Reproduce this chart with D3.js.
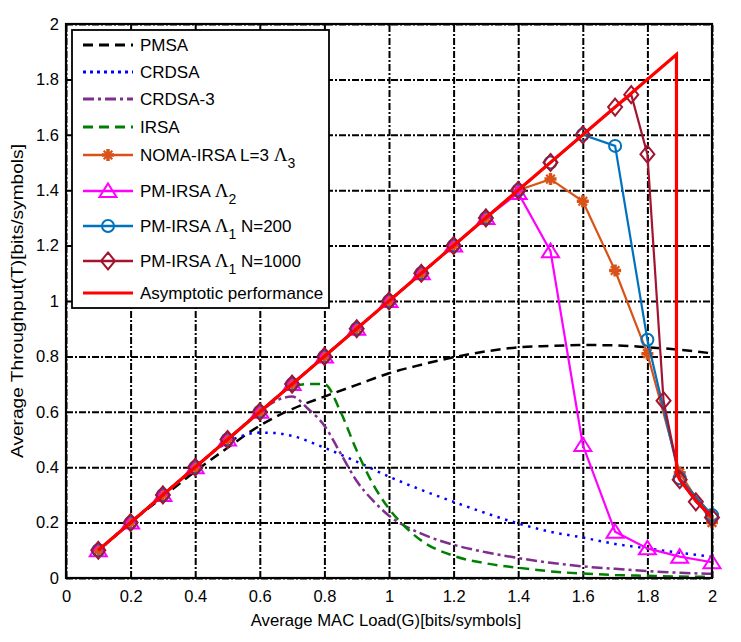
<!DOCTYPE html>
<html>
<head>
<meta charset="utf-8">
<script src="https://cdn.jsdelivr.net/npm/d3@7"></script>
<style>
  body { margin: 0; background: #fff; }
  svg { display: block; }
  text { font-family: "Liberation Sans", Arial, sans-serif; }
</style>
</head>
<body>
<svg id="chart" width="741" height="642"></svg>
<script>
// ---------------- data ----------------
const xTicks = [0, 0.2, 0.4, 0.6, 0.8, 1, 1.2, 1.4, 1.6, 1.8, 2];
const yTicks = [0, 0.2, 0.4, 0.6, 0.8, 1, 1.2, 1.4, 1.6, 1.8, 2];
const xTickLabels = ["0", "0.2", "0.4", "0.6", "0.8", "1", "1.2", "1.4", "1.6", "1.8", "2"];
const yTickLabels = ["0", "0.2", "0.4", "0.6", "0.8", "1", "1.2", "1.4", "1.6", "1.8", "2"];

const pmsaX = [0.1,0.2,0.3,0.4,0.5,0.6,0.7,0.8,0.9,1.0,1.1,1.2,1.3,1.4,1.5,1.6,1.7,1.8,1.9,2.0];
const pmsaY = [0.1,0.2,0.293,0.385,0.47,0.55,0.61,0.655,0.697,0.739,0.77,0.797,0.818,0.833,0.838,0.841,0.84,0.833,0.824,0.811];

const crdsaX = [0.1,0.2,0.3,0.4,0.45,0.5,0.55,0.6,0.65,0.7,0.8,0.9,1.0,1.1,1.2,1.3,1.4,1.5,1.6,1.7,1.8,1.9,2.0];
const crdsaY = [0.1,0.2,0.3,0.398,0.45,0.49,0.515,0.525,0.523,0.513,0.47,0.42,0.366,0.318,0.275,0.234,0.197,0.167,0.146,0.123,0.107,0.091,0.077];

const crdsa3X = [0.1,0.2,0.3,0.4,0.5,0.6,0.65,0.7,0.75,0.8,0.85,0.9,0.95,1.0,1.1,1.2,1.3,1.4,1.5,1.6,1.7,1.8,1.9,2.0];
const crdsa3Y = [0.1,0.2,0.3,0.4,0.5,0.6,0.64,0.655,0.61,0.55,0.45,0.35,0.28,0.225,0.16,0.12,0.093,0.072,0.055,0.042,0.033,0.025,0.019,0.015];

const irsaX = [0.1,0.2,0.3,0.4,0.5,0.6,0.7,0.75,0.8,0.85,0.9,0.95,1.0,1.05,1.1,1.2,1.3,1.4,1.5,1.6,1.7,1.8,1.9,2.0];
const irsaY = [0.1,0.2,0.3,0.4,0.5,0.6,0.69,0.70,0.70,0.60,0.46,0.34,0.25,0.185,0.135,0.08,0.053,0.037,0.024,0.016,0.011,0.008,0.005,0.004];

const nomaX = [0.1,0.2,0.3,0.4,0.5,0.6,0.7,0.8,0.9,1.0,1.1,1.2,1.3,1.4,1.5,1.6,1.7,1.8,1.9,2.0];
const nomaY = [0.1,0.2,0.3,0.4,0.5,0.6,0.7,0.8,0.9,1.0,1.1,1.2,1.3,1.4,1.44,1.36,1.11,0.81,0.38,0.2];

const pm2X = [0.1,0.2,0.3,0.4,0.5,0.6,0.7,0.8,0.9,1.0,1.1,1.2,1.3,1.4,1.5,1.6,1.7,1.8,1.9,2.0];
const pm2Y = [0.1,0.2,0.3,0.4,0.5,0.6,0.7,0.8,0.9,1.0,1.1,1.2,1.3,1.39,1.18,0.48,0.167,0.107,0.077,0.057];

const n200X = [0.1,0.2,0.3,0.4,0.5,0.6,0.7,0.8,0.9,1.0,1.1,1.2,1.3,1.4,1.5,1.6,1.7,1.8,1.9,2.0];
const n200Y = [0.1,0.2,0.3,0.4,0.5,0.6,0.7,0.8,0.9,1.0,1.1,1.2,1.3,1.4,1.5,1.6,1.56,0.86,0.36,0.227];

const n1000X = [0.1,0.2,0.3,0.4,0.5,0.6,0.7,0.8,0.9,1.0,1.1,1.2,1.3,1.4,1.5,1.6,1.7,1.75,1.8,1.85,1.9,1.95,2.0];
const n1000Y = [0.1,0.2,0.3,0.4,0.5,0.6,0.7,0.8,0.9,1.0,1.1,1.2,1.3,1.4,1.5,1.6,1.7,1.745,1.53,0.64,0.355,0.275,0.218];

const asymX = [0.1, 1.89, 1.89, 1.9, 1.95, 2.0];
const asymY = [0.1, 1.89, 0.38, 0.355, 0.28, 0.22];

// ---------------- layout ----------------
const svg = d3.select("#chart");
const L = 66, R = 712, T = 24, B = 578;
const x = d3.scaleLinear().domain([0, 2]).range([L, R]);
const y = d3.scaleLinear().domain([0, 2]).range([B, T]);

// grid + tick labels
const gx = svg.append("g").attr("transform", `translate(0,${B})`)
  .call(d3.axisBottom(x).tickValues(xTicks).tickFormat((d, i) => xTickLabels[i])
        .tickSize(-(B - T)).tickPadding(12));
const gy = svg.append("g").attr("transform", `translate(${L},0)`)
  .call(d3.axisLeft(y).tickValues(yTicks).tickFormat((d, i) => yTickLabels[i])
        .tickSize(-(R - L)).tickPadding(7));
[gx, gy].forEach(g => {
  g.select(".domain").remove();
  g.selectAll(".tick line").attr("stroke", "#000").attr("stroke-width", 2)
    .attr("stroke-dasharray", "7,2,2,2");
  g.selectAll(".tick text").attr("fill", "#000").style("font-size", "16.5px")
    .style("font-family", "'Liberation Sans', Arial, sans-serif");
});

function series(xs, ys) { return xs.map((v, i) => [v, ys[i]]); }
const smooth = d3.line().x(d => x(d[0])).y(d => y(d[1])).curve(d3.curveMonotoneX);
const straight = d3.line().x(d => x(d[0])).y(d => y(d[1]));

const plot = svg.append("g");
plot.append("path").attr("d", smooth(series(pmsaX, pmsaY))).attr("fill", "none")
  .attr("stroke", "#000").attr("stroke-width", 2.5).attr("stroke-dasharray", "10,6");
plot.append("path").attr("d", smooth(series(crdsaX, crdsaY))).attr("fill", "none")
  .attr("stroke", "#0000FF").attr("stroke-width", 2.5).attr("stroke-dasharray", "2.5,5.5");
plot.append("path").attr("d", smooth(series(crdsa3X, crdsa3Y))).attr("fill", "none")
  .attr("stroke", "#7E2F8E").attr("stroke-width", 2.5).attr("stroke-dasharray", "11,4,3,4");
plot.append("path").attr("d", smooth(series(irsaX, irsaY))).attr("fill", "none")
  .attr("stroke", "#008000").attr("stroke-width", 2.5).attr("stroke-dasharray", "10,6");

// marker shapes
const markers = {
  star: g => {
    g.append("path").attr("d", "M-6,0L6,0M0,-6L0,6").attr("stroke-width", 3.5);
    g.append("path").attr("d", "M-4.3,-4.3L4.3,4.3M-4.3,4.3L4.3,-4.3").attr("stroke-width", 2.2);
  },
  tri: g => g.append("path").attr("d", "M0,-7.5L8.5,6L-8.5,6Z").attr("stroke-width", 2),
  circ: g => g.append("circle").attr("r", 6).attr("stroke-width", 2),
  diam: g => g.append("path").attr("d", "M0,-8.5L7,0L0,8.5L-7,0Z").attr("stroke-width", 2)
};

const markerSeries = [
  { xs: nomaX, ys: nomaY, color: "#D95319", m: "star" },
  { xs: pm2X, ys: pm2Y, color: "#FF00FF", m: "tri" },
  { xs: n200X, ys: n200Y, color: "#0072BD", m: "circ" },
  { xs: n1000X, ys: n1000Y, color: "#A2142F", m: "diam" }
];
markerSeries.forEach(s => {
  const data = series(s.xs, s.ys);
  const g = plot.append("g");
  g.append("path").attr("d", straight(data)).attr("fill", "none")
    .attr("stroke", s.color).attr("stroke-width", 2.2);
  data.forEach(d => {
    const mg = g.append("g").attr("transform", `translate(${x(d[0])},${y(d[1])})`)
      .attr("fill", "none").attr("stroke", s.color);
    markers[s.m](mg);
  });
});

plot.append("path").attr("d", straight(series(asymX, asymY))).attr("fill", "none")
  .attr("stroke", "#FF0000").attr("stroke-width", 3.2).attr("stroke-linejoin", "miter");

// frame
svg.append("rect").attr("x", L).attr("y", T).attr("width", R - L).attr("height", B - T)
  .attr("fill", "none").attr("stroke", "#000").attr("stroke-width", 2.2);

// axis labels
svg.append("text").attr("x", (L + R) / 2 - 3).attr("y", 626).attr("text-anchor", "middle")
  .style("font-size", "16.7px").text("Average MAC Load(G)[bits/symbols]");
svg.append("text").attr("transform", `translate(23,${(T + B) / 2}) rotate(-90)`)
  .attr("text-anchor", "middle").style("font-size", "16.7px")
  .attr("textLength", 314).attr("lengthAdjust", "spacingAndGlyphs")
  .text("Average Throughput(T)[bits/symbols]");

// legend
const legendItems = [
  { label: "PMSA", color: "#000", dash: "10,6", w: 3, y: 45 },
  { label: "CRDSA", color: "#0000FF", dash: "3,4", w: 3, y: 72 },
  { label: "CRDSA-3", color: "#7E2F8E", dash: "11,4,3,4", w: 3, y: 99 },
  { label: "IRSA", color: "#008000", dash: "10,6", w: 3, y: 127 },
  { label: "NOMA-IRSA L=3 ", lam: "3", color: "#D95319", m: "star", w: 2.5, y: 155 },
  { label: "PM-IRSA ", lam: "2", color: "#FF00FF", m: "tri", w: 2.5, y: 191 },
  { label: "PM-IRSA ", lam: "1", after: " N=200", color: "#0072BD", m: "circ", w: 2.5, y: 226 },
  { label: "PM-IRSA ", lam: "1", after: " N=1000", color: "#A2142F", m: "diam", w: 2.5, y: 261 },
  { label: "Asymptotic performance", color: "#FF0000", w: 3.2, y: 293 }
];
const lg = svg.append("g");
lg.append("rect").attr("x", 72).attr("y", 30).attr("width", 257).attr("height", 278)
  .attr("fill", "#fff").attr("stroke", "#000").attr("stroke-width", 1.8);
legendItems.forEach(it => {
  lg.append("line").attr("x1", 83).attr("x2", 133).attr("y1", it.y).attr("y2", it.y)
    .attr("stroke", it.color).attr("stroke-width", it.w)
    .attr("stroke-dasharray", it.dash || null);
  if (it.m) {
    const mg = lg.append("g").attr("transform", `translate(108,${it.y})`)
      .attr("fill", "none").attr("stroke", it.color);
    markers[it.m](mg);
  }
  const t = lg.append("text").attr("x", 140).attr("y", it.y + 6).style("font-size", "17px");
  t.append("tspan").text(it.label);
  if (it.lam) {
    t.append("tspan").style("font-family", "'Liberation Serif', 'DejaVu Serif', serif")
      .style("font-size", "19px").text("\u039B");
    t.append("tspan").attr("dy", 7).style("font-size", "14px").text(it.lam);
    if (it.after) t.append("tspan").attr("dy", -7).text(it.after);
  }
});
</script>
</body>
</html>
